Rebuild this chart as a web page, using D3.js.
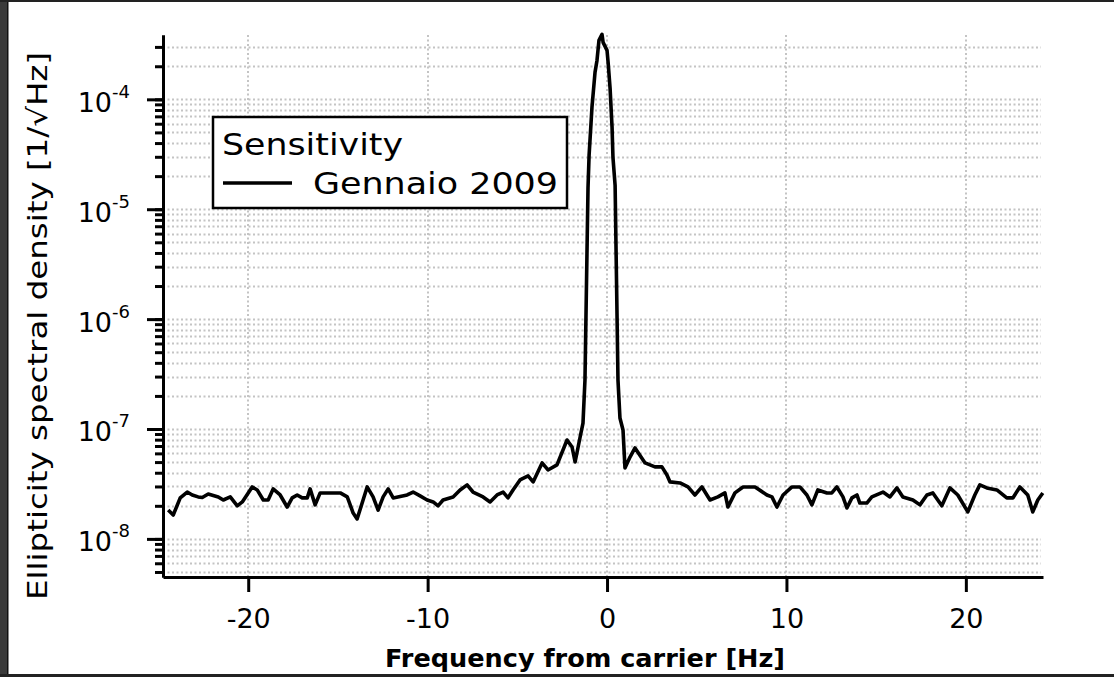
<!DOCTYPE html>
<meta charset="utf-8">
<style>
	body { margin: 0; background: #fff; }
	svg text { font-family: "DejaVu Sans", Verdana, sans-serif; fill: #000; }
	.grid line { stroke: #c4c4c4; stroke-width: 2; stroke-dasharray: 2,2.5; }
	.axis path, .axis line { stroke: #000; stroke-width: 3; }
	.trace { fill: none; stroke: #000; stroke-width: 3.6; stroke-linejoin: round; }
</style>

<div class="chart"></div>

<script src="https://d3js.org/d3.v7.min.js"></script>

<script>
	// frequency from carrier [Hz] and ellipticity spectral density [1/sqrt(Hz)]
	var freq = [-24.46, -24.18, -23.79, -23.40, -23.12, -22.79, -22.56, -22.23, -21.67, -21.39,
		-21.00, -20.61, -20.33, -19.78, -19.50, -19.16, -18.89, -18.61, -18.22, -17.83,
		-17.55, -17.27, -16.99, -16.71, -16.55, -16.27, -15.99, -14.87, -14.48, -14.15,
		-13.93, -13.65, -13.37, -13.04, -12.76, -12.48, -12.20, -11.92, -11.14, -10.81,
		-10.42, -10.03, -9.69, -9.42, -9.14, -8.58, -8.19, -7.80, -7.47, -6.91,
		-6.52, -6.13, -5.79, -5.52, -5.24, -4.85, -4.40, -4.12, -3.62, -3.29,
		-2.79, -2.23, -1.95, -1.78, -1.50, -1.34, -1.23, -1.06, -1.00, -0.84,
		-0.67, -0.56, -0.45, -0.28, -0.22, 0.00, 0.06, 0.17, 0.28, 0.33,
		0.45, 0.61, 0.72, 0.89, 1.00, 1.28, 1.56, 2.12, 2.67, 3.06,
		3.34, 3.51, 4.07, 4.51, 4.90, 5.29, 5.74, 6.18, 6.57, 6.74,
		7.13, 7.58, 8.25, 8.91, 9.19, 9.47, 9.81, 10.31, 10.75, 11.14,
		11.42, 11.75, 12.26, 12.53, 12.81, 13.15, 13.37, 13.65, 13.93, 14.09,
		14.48, 14.76, 15.38, 15.77, 16.16, 16.49, 17.05, 17.44, 17.83, 18.16,
		18.66, 19.11, 19.55, 20.11, 20.50, 20.78, 21.17, 21.73, 22.28, 22.62,
		23.01, 23.45, 23.73, 24.01, 24.29];

	var psd = [1.83e-8, 1.65e-8, 2.36e-8, 2.67e-8, 2.51e-8, 2.41e-8, 2.38e-8, 2.56e-8, 2.41e-8, 2.26e-8,
		2.41e-8, 2.00e-8, 2.17e-8, 2.97e-8, 2.79e-8, 2.26e-8, 2.26e-8, 2.85e-8, 2.51e-8, 1.95e-8,
		2.36e-8, 2.51e-8, 2.36e-8, 2.36e-8, 2.85e-8, 2.04e-8, 2.62e-8, 2.62e-8, 2.41e-8, 1.72e-8,
		1.52e-8, 2.12e-8, 2.97e-8, 2.41e-8, 1.83e-8, 2.41e-8, 2.85e-8, 2.36e-8, 2.51e-8, 2.67e-8,
		2.46e-8, 2.26e-8, 2.17e-8, 2.00e-8, 2.26e-8, 2.41e-8, 2.79e-8, 3.10e-8, 2.67e-8, 2.41e-8,
		2.17e-8, 2.51e-8, 2.67e-8, 2.36e-8, 2.79e-8, 3.44e-8, 3.74e-8, 3.30e-8, 4.91e-8, 4.24e-8,
		4.71e-8, 7.94e-8, 6.86e-8, 5.01e-8, 8.46e-8, 1.13e-7, 2.79e-7, 1.58e-5, 3.10e-5, 8.46e-5,
		1.76e-4, 2.26e-4, 3.44e-4, 3.90e-4, 3.30e-4, 2.79e-4, 2.17e-4, 1.26e-4, 5.56e-5, 2.97e-5,
		1.65e-5, 2.79e-7, 1.26e-7, 9.80e-8, 4.42e-8, 5.56e-8, 6.72e-8, 4.91e-8, 4.52e-8, 4.52e-8,
		3.82e-8, 3.30e-8, 3.23e-8, 2.97e-8, 2.51e-8, 2.97e-8, 2.26e-8, 2.41e-8, 2.62e-8, 1.95e-8,
		2.62e-8, 2.97e-8, 2.97e-8, 2.51e-8, 2.41e-8, 1.95e-8, 2.51e-8, 2.97e-8, 2.97e-8, 2.51e-8,
		2.04e-8, 2.79e-8, 2.62e-8, 2.62e-8, 2.97e-8, 2.41e-8, 1.91e-8, 2.36e-8, 2.51e-8, 2.12e-8,
		2.12e-8, 2.41e-8, 2.67e-8, 2.41e-8, 2.91e-8, 2.41e-8, 2.26e-8, 2.04e-8, 2.51e-8, 2.62e-8,
		2.00e-8, 2.91e-8, 2.51e-8, 1.76e-8, 2.51e-8, 3.10e-8, 2.91e-8, 2.79e-8, 2.36e-8, 2.36e-8,
		2.97e-8, 2.51e-8, 1.76e-8, 2.26e-8, 2.62e-8];

	var xTicks = [-20, -10, 0, 10, 20];
	var yMajor = [1e-8, 1e-7, 1e-6, 1e-5, 1e-4];
	var yExp = ["-8", "-7", "-6", "-5", "-4"];

	var width = 1114, height = 677;
	var plotLeft = 163, plotRight = 1043, plotTop = 35, plotBottom = 577;

	var svg = d3.select('.chart')
			.append("svg")
			.attr("width", width)
			.attr("height", height);

	// dark frame around the screenshot
	svg.append("rect").attr("x", 0).attr("y", 0).attr("width", 8).attr("height", height).attr("fill", "#3a3a3a");
	svg.append("rect").attr("x", 7).attr("y", 0).attr("width", 1.5).attr("height", height).attr("fill", "#111");
	svg.append("rect").attr("x", 0).attr("y", 0).attr("width", width).attr("height", 2).attr("fill", "#222");
	svg.append("rect").attr("x", 0).attr("y", 674).attr("width", width).attr("height", 3).attr("fill", "#222");

	var x = d3.scaleLinear()
			.domain([-24.75, 24.3])
			.range([plotLeft, plotRight]);

	var y = d3.scaleLog()
			.domain([4.5e-9, 3.85e-4])
			.range([plotBottom, plotTop]);

	var allTicks = y.ticks().filter(function(d) { return d >= y.domain()[0] && d <= y.domain()[1]; });

	// dotted grid
	var grid = svg.append("g").attr("class", "grid");
	grid.selectAll(".h")
			.data(allTicks)
			.enter().append("line")
			.attr("x1", plotLeft).attr("x2", plotRight - 2)
			.attr("y1", function(d) { return Math.round(y(d)) + 0.5; })
			.attr("y2", function(d) { return Math.round(y(d)) + 0.5; });
	grid.selectAll(".v")
			.data(xTicks)
			.enter().append("line")
			.attr("x1", function(d) { return Math.round(x(d)); })
			.attr("x2", function(d) { return Math.round(x(d)); })
			.attr("y1", plotTop).attr("y2", plotBottom);

	// minor y ticks
	svg.append("g")
			.attr("class", "axis")
			.attr("transform", "translate(" + plotLeft + ",0)")
			.call(d3.axisLeft(y).tickValues(allTicks).tickSize(8).tickSizeOuter(0).tickFormat(""));

	// major y ticks with 10^n labels
	var yAxis = svg.append("g")
			.attr("class", "axis")
			.attr("transform", "translate(" + plotLeft + ",0)")
			.call(d3.axisLeft(y).tickValues(yMajor).tickSize(16).tickSizeOuter(0).tickPadding(17).tickFormat(""));

	yAxis.selectAll(".tick text")
			.attr("font-size", 27)
			.attr("font-family", null)
			.attr("dy", "0.44em")
			.each(function(d) {
				var t = d3.select(this);
				t.append("tspan").text("10");
				t.append("tspan").attr("dy", -14).attr("font-size", 18).text(yExp[yMajor.indexOf(d)]);
			});

	var xAxis = svg.append("g")
			.attr("class", "axis")
			.attr("transform", "translate(0," + plotBottom + ")")
			.call(d3.axisBottom(x).tickValues(xTicks).tickSize(15).tickSizeOuter(0).tickPadding(17)
				.tickFormat(function(d) { return d < 0 ? "-" + Math.abs(d) : String(d); }));

	xAxis.selectAll(".tick text")
			.attr("font-size", 27)
			.attr("font-family", null);

	svg.selectAll(".axis .domain").attr("stroke-width", 3);

	// the spectrum
	var line = d3.line()
			.x(function(d) { return x(d[0]); })
			.y(function(d) { return y(d[1]); });

	svg.append("path")
			.datum(freq.map(function(f, i) { return [f, psd[i]]; }))
			.attr("class", "trace")
			.attr("d", line);

	// legend
	var legend = svg.append("g");
	legend.append("rect")
			.attr("x", 213).attr("y", 117)
			.attr("width", 354).attr("height", 91)
			.attr("fill", "#fff").attr("stroke", "#000").attr("stroke-width", 2.5);
	legend.append("text")
			.attr("x", 222).attr("y", 155)
			.attr("font-size", 31)
			.attr("textLength", 181).attr("lengthAdjust", "spacingAndGlyphs")
			.text("Sensitivity");
	legend.append("line")
			.attr("x1", 223).attr("x2", 292)
			.attr("y1", 183).attr("y2", 183)
			.attr("stroke", "#000").attr("stroke-width", 3.5);
	legend.append("text")
			.attr("x", 313).attr("y", 194)
			.attr("font-size", 30)
			.attr("textLength", 245).attr("lengthAdjust", "spacingAndGlyphs")
			.text("Gennaio 2009");

	// axis titles
	svg.append("text")
			.attr("x", 585).attr("y", 667)
			.attr("text-anchor", "middle")
			.attr("font-size", 24)
			.attr("font-weight", "bold")
			.attr("textLength", 400).attr("lengthAdjust", "spacingAndGlyphs")
			.text("Frequency from carrier [Hz]");

	svg.append("text")
			.attr("transform", "translate(47,326) rotate(-90)")
			.attr("text-anchor", "middle")
			.attr("font-size", 27)
			.attr("textLength", 548).attr("lengthAdjust", "spacingAndGlyphs")
			.text("Ellipticity spectral density [1/\u221AHz]");
</script>
